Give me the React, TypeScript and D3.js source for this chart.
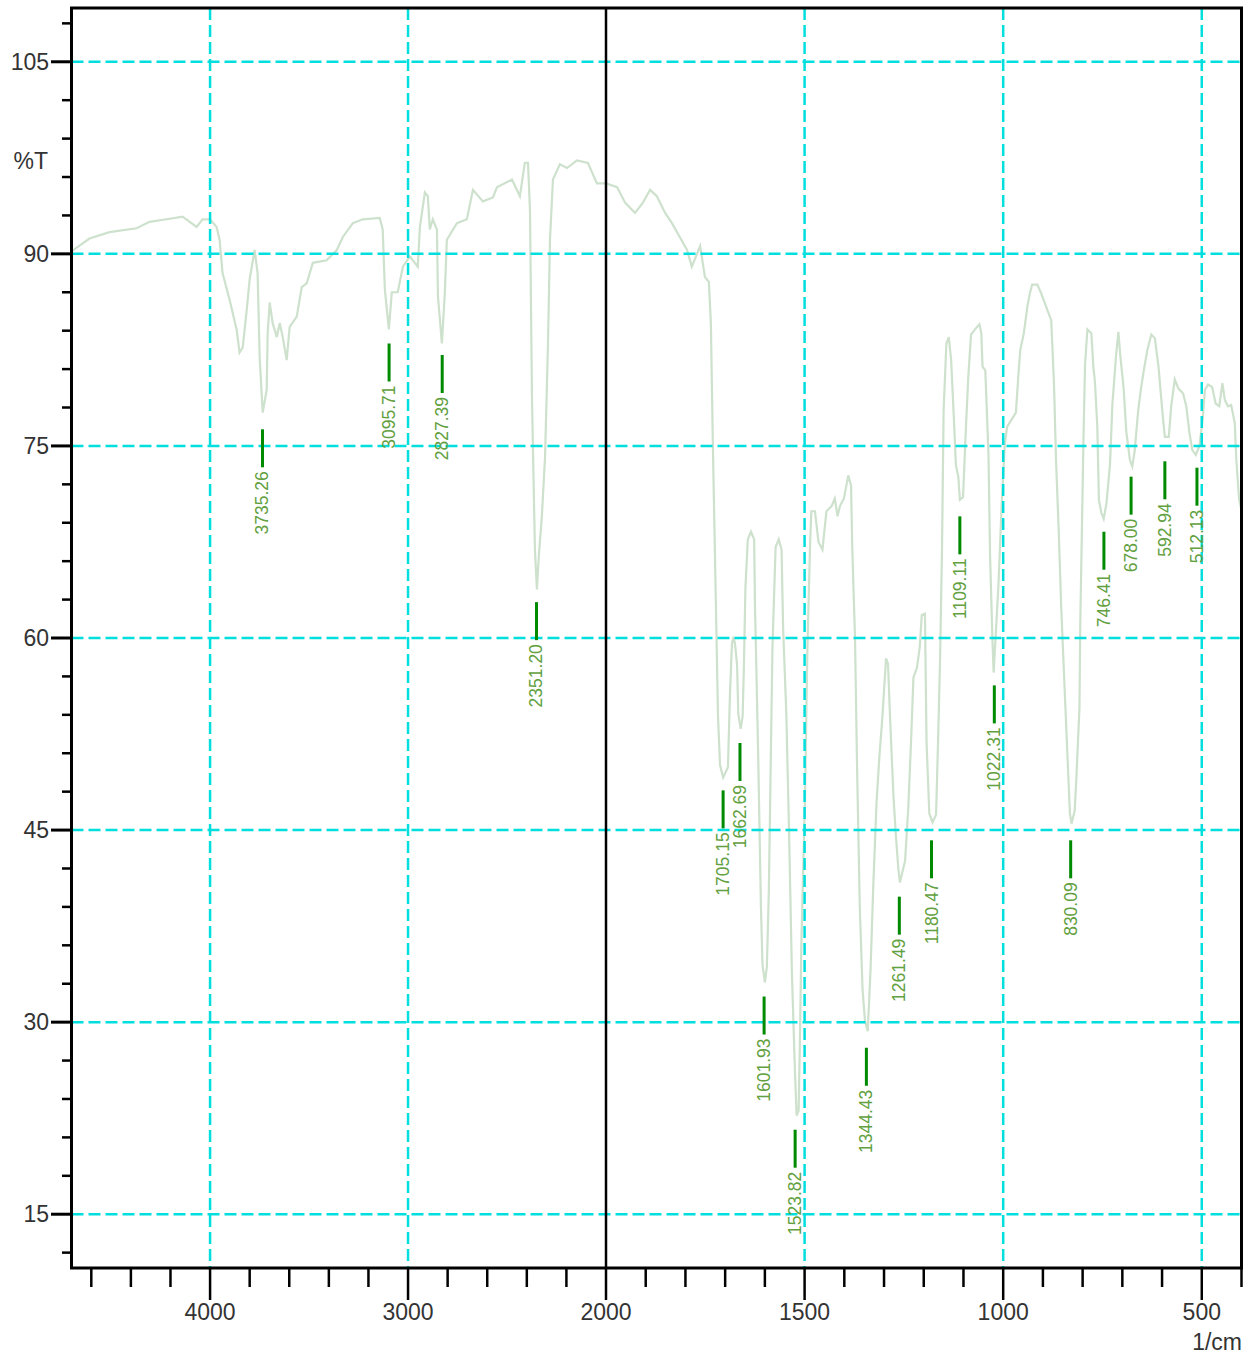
import React from 'react';
import * as d3 from 'd3';

// spectrum trace, 1/cm and %T
const wavenumbers = [
  4700, 4609, 4508, 4371, 4306, 4220, 4139, 4068, 4038, 4000,
  3967, 3952, 3937, 3901, 3866, 3851, 3835, 3815, 3800, 3775,
  3760, 3749, 3734, 3714, 3709, 3699, 3684, 3663, 3648, 3633,
  3613, 3598, 3562, 3537, 3512, 3481, 3411, 3360, 3330, 3279,
  3229, 3143, 3128, 3117, 3097, 3082, 3052, 3026, 2991, 2951,
  2940, 2915, 2900, 2890, 2875, 2854, 2849, 2829, 2814, 2804,
  2753, 2703, 2672, 2622, 2571, 2551, 2475, 2435, 2410, 2394,
  2384, 2374, 2359, 2349, 2339, 2324, 2308, 2293, 2283, 2268,
  2233, 2197, 2147, 2091, 2046, 2000,
  1972, 1952, 1927, 1907, 1889, 1872, 1851, 1834, 1814, 1796,
  1784, 1763, 1751, 1741, 1736, 1731, 1726, 1718, 1713, 1705,
  1693, 1688, 1683, 1679, 1675, 1670, 1667, 1661, 1656, 1653,
  1649, 1643, 1635, 1627, 1625, 1617, 1610, 1606, 1600, 1595,
  1590, 1581, 1573, 1565, 1558, 1554, 1546, 1539, 1532, 1524,
  1520, 1515, 1512, 1508, 1499, 1493, 1486, 1483, 1474, 1465,
  1455, 1445, 1432, 1424, 1417, 1411, 1401, 1390, 1383, 1380,
  1373, 1368, 1361, 1354, 1348, 1341, 1334, 1327, 1319, 1312,
  1304, 1295, 1290, 1285, 1276, 1270, 1264, 1260, 1247, 1239,
  1232, 1226, 1217, 1210, 1205, 1197, 1193, 1186, 1178, 1169,
  1164, 1159, 1154, 1150, 1143, 1137, 1131, 1124, 1119, 1113,
  1109, 1101, 1099, 1094, 1088, 1081, 1071, 1060, 1055, 1052,
  1045, 1037, 1033, 1027, 1024, 1012, 1004, 996, 990, 968,
  962, 957, 948, 939, 933, 927, 914, 904, 891, 879,
  872, 867, 860, 854, 845, 836, 832, 828, 820, 816,
  808, 806, 798, 794, 788, 778, 773, 769, 763, 759,
  753, 747, 740, 731, 725, 721, 716, 710, 705, 697,
  690, 681, 675, 669, 660, 653, 646, 637, 627, 618,
  609, 604, 599, 593, 583, 577, 568, 559, 547, 539,
  531, 524, 515, 506, 498, 492, 484, 474, 465, 456,
  448, 442, 434, 426, 417, 413, 406, 400,
];

const transmittance = [
  90.2, 91.2, 91.7, 92.0, 92.5, 92.7, 92.9, 92.1, 92.7, 92.7,
  92.1, 91.1, 88.5, 86.4, 84.1, 82.3, 82.7, 85.6, 88.0, 90.3,
  88.5, 81.7, 77.6, 79.4, 83.8, 86.2, 84.6, 83.5, 84.6, 83.5,
  81.7, 84.3, 85.1, 87.4, 87.7, 89.3, 89.5, 90.3, 91.3, 92.4,
  92.7, 92.8, 91.9, 87.2, 84.1, 87.0, 87.0, 89.0, 89.8, 89.0,
  92.1, 94.8, 94.5, 91.9, 92.7, 91.9, 86.7, 83.0, 87.0, 91.1,
  92.4, 92.7, 95.0, 94.1, 94.4, 95.2, 95.8, 94.5, 97.1, 97.1,
  93.4, 78.8, 66.9, 63.8, 66.5, 69.5, 74.1, 83.0, 91.1, 95.8,
  97.0, 96.7, 97.3, 97.1, 95.5, 95.5,
  95.2, 94.0, 93.2, 94.0, 95.0, 94.5, 93.2, 92.4, 91.3, 90.3,
  89.0, 90.6, 88.2, 87.8, 84.6, 75.2, 67.0, 53.9, 50.1, 49.1,
  49.9, 55.5, 59.5, 60.1, 59.5, 57.9, 54.1, 52.9, 53.9, 57.5,
  63.9, 67.7, 68.3, 67.7, 62.7, 51.1, 39.1, 34.5, 33.1, 34.3,
  40.3, 59.1, 67.1, 67.7, 66.9, 60.7, 54.1, 44.7, 33.9, 25.9,
  22.7, 23.1, 28.1, 36.3, 47.5, 59.1, 67.5, 69.9, 69.9, 67.5,
  66.9, 69.9, 70.3, 70.9, 69.5, 70.3, 70.9, 72.7, 71.9, 67.1,
  59.9, 50.1, 38.9, 32.5, 30.1, 29.3, 34.1, 40.7, 47.1, 50.6,
  53.9, 58.4, 58.0, 53.9, 47.5, 44.5, 42.0, 40.9, 42.6, 46.7,
  51.9, 56.9, 57.7, 59.3, 61.8, 61.9, 51.9, 46.3, 45.6, 46.2,
  51.9, 58.2, 67.0, 77.8, 83.0, 83.5, 81.7, 77.0, 73.5, 72.6,
  70.8, 71.0, 72.6, 76.3, 80.3, 83.7, 84.1, 84.5, 83.8, 81.2,
  80.9, 74.3, 66.4, 59.8, 57.3, 64.1, 70.3, 75.1, 76.5, 77.6,
  80.4, 82.5, 83.8, 85.9, 86.9, 87.6, 87.6, 86.9, 85.8, 84.8,
  79.8, 73.9, 68.2, 62.5, 55.8, 49.2, 46.3, 45.5, 46.5, 48.9,
  54.5, 61.0, 75.3, 81.3, 84.1, 83.8, 81.2, 80.0, 76.5, 70.8,
  69.8, 69.3, 70.5, 73.6, 78.3, 79.9, 82.0, 83.9, 82.0, 79.6,
  76.1, 73.9, 73.4, 74.6, 77.8, 79.5, 80.9, 82.5, 83.7, 83.4,
  81.2, 79.4, 77.6, 75.7, 75.7, 78.1, 80.2, 79.5, 79.1, 78.1,
  76.0, 74.7, 74.3, 75.0, 77.0, 79.4, 79.8, 79.6, 78.3, 78.1,
  79.9, 78.6, 78.1, 78.2, 76.8, 73.9, 70.8, 70.0,
];

// peak picks: label text (also its position) and %T where the marker starts
const peakLabels = [
  '3735.26', '3095.71', '2827.39', '2351.20', '1705.15', '1662.69',
  '1601.93', '1523.82', '1344.43', '1261.49', '1180.47', '1109.11',
  '1022.31', '830.09', '746.41', '678.00', '592.94', '512.13',
];
const peakMarkT = [
  76.3, 83.0, 82.1, 62.8, 48.1, 51.8, 32.0, 21.6, 28.0, 39.8,
  44.2, 69.5, 56.3, 44.2, 68.3, 72.6, 73.8, 73.3,
];

const xMajor = [4000, 3000, 2000, 1500, 1000, 500];
const xMinor = [
  4600, 4400, 4200, 3800, 3600, 3400, 3200, 2800, 2600, 2400, 2200,
  1900, 1800, 1700, 1600, 1400, 1300, 1200, 1100, 900, 800, 700, 600, 400,
];
const yMajor = [105, 90, 75, 60, 45, 30, 15];
const yMinor = [108, 102, 99, 96, 93, 87, 84, 81, 78, 72, 69, 66, 63, 57, 54, 51, 48, 42, 39, 36, 33, 27, 24, 21, 18, 12];

const W = 1251;
const H = 1355;
const left = 71.5;
const right = 1241.5;
const top = 8;
const bottom = 1268;
const font = '"Liberation Sans", Arial, sans-serif';

export default function App() {
  // the axis changes scale at 2000 1/cm, as on the instrument printout
  const x = d3.scaleLinear().domain([4700, 2000, 400]).range([left, 606, right]);
  const y = d3.scaleLinear().domain([10.8, 109.2]).range([bottom, top]);

  const points: [number, number][] = wavenumbers.map((w, i) => [w, transmittance[i]]);
  const line = d3.line<[number, number]>()
    .x(d => x(d[0]))
    .y(d => y(d[1]));

  const gridX = xMajor.filter(d => d !== 2000);

  return (
    <svg width={W} height={H} style={{ position: 'absolute', left: 0, top: 0, background: '#fff' }}>
      <path d={line(points) || ''} fill="none" stroke="#cde1cd" strokeWidth={2.2} />

      {gridX.map(d => (
        <line key={'gx' + d} x1={x(d)} x2={x(d)} y1={top} y2={bottom}
          stroke="#00dede" strokeWidth={2.5} strokeDasharray="12,5" />
      ))}
      {yMajor.map(d => (
        <line key={'gy' + d} x1={left} x2={right} y1={y(d)} y2={y(d)}
          stroke="#00dede" strokeWidth={2.5} strokeDasharray="12,5" />
      ))}
      <line x1={x(2000)} x2={x(2000)} y1={top} y2={bottom} stroke="#000" strokeWidth={2.5} />

      <rect x={left} y={top} width={right - left} height={bottom - top} fill="none" stroke="#000" strokeWidth={3} />

      {yMajor.map(d => (
        <g key={'yt' + d}>
          <line x1={51} x2={left} y1={y(d)} y2={y(d)} stroke="#000" strokeWidth={3} />
          <text x={49} y={y(d)} dy="0.36em" textAnchor="end" fontFamily={font} fontSize={23} fill="#333">{d}</text>
        </g>
      ))}
      {yMinor.map(d => (
        <line key={'ym' + d} x1={62} x2={left} y1={y(d)} y2={y(d)} stroke="#000" strokeWidth={2.5} />
      ))}
      {xMajor.map(d => (
        <g key={'xt' + d}>
          <line x1={x(d)} x2={x(d)} y1={bottom} y2={1300} stroke="#000" strokeWidth={2.5} />
          <text x={x(d)} y={1312} dy="0.36em" textAnchor="middle" fontFamily={font} fontSize={23} fill="#333">{d}</text>
        </g>
      ))}
      {xMinor.map(d => (
        <line key={'xm' + d} x1={x(d)} x2={x(d)} y1={bottom} y2={1287} stroke="#000" strokeWidth={2.5} />
      ))}

      <text x={48} y={161} dy="0.36em" textAnchor="end" fontFamily={font} fontSize={23} fill="#333">%T</text>
      <text x={1242} y={1342} dy="0.36em" textAnchor="end" fontFamily={font} fontSize={23} fill="#333">1/cm</text>

      {peakLabels.map((lab, i) => {
        const px = x(parseFloat(lab));
        const py = y(peakMarkT[i]);
        return (
          <g key={'pk' + lab}>
            <line x1={px} x2={px} y1={py} y2={py + 38} stroke="#008a00" strokeWidth={3} />
            <text transform={`translate(${px + 6},${py + 42}) rotate(-90)`} textAnchor="end"
              fontFamily={font} fontSize={17.5} fill="#62a040">{lab}</text>
          </g>
        );
      })}
    </svg>
  );
}
